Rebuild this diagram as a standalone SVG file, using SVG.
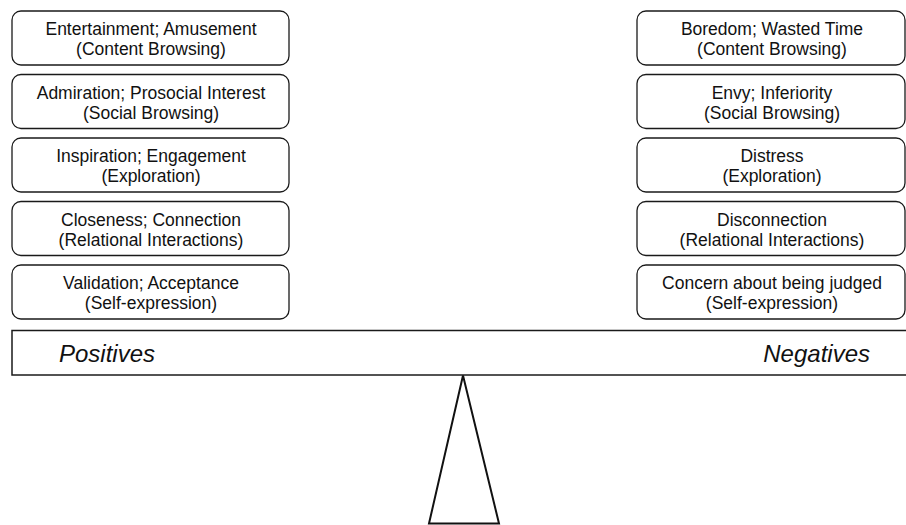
<svg xmlns="http://www.w3.org/2000/svg" width="906" height="525" viewBox="0 0 906 525">
  <style>
    .box { fill: #ffffff; stroke: #1a1a1a; stroke-width: 1.3; }
    .lbl { font-family: "Liberation Sans", Arial, sans-serif; font-size: 17.5px; fill: #111111; text-anchor: middle; }
    .side { font-family: "Liberation Sans", Arial, sans-serif; font-size: 24px; font-style: italic; fill: #111111; }
    .beam { fill: #ffffff; stroke: #1a1a1a; stroke-width: 1.5; }
    .fulcrum { fill: #ffffff; stroke: #111111; stroke-width: 2; stroke-linejoin: miter; }
  </style>
  <rect width="906" height="525" fill="#ffffff"/>

  <!-- positive outcomes (left pan) -->
  <g id="pos-content">
    <rect class="box" x="12" y="11" width="277" height="54" rx="9"/>
    <text class="lbl" x="151" y="35">Entertainment; Amusement</text>
    <text class="lbl" x="151" y="55">(Content Browsing)</text>
  </g>
  <g id="pos-social">
    <rect class="box" x="12" y="74.5" width="277" height="54" rx="9"/>
    <text class="lbl" x="151" y="98.5">Admiration; Prosocial Interest</text>
    <text class="lbl" x="151" y="118.5">(Social Browsing)</text>
  </g>
  <g id="pos-exploration">
    <rect class="box" x="12" y="138" width="277" height="54" rx="9"/>
    <text class="lbl" x="151" y="162">Inspiration; Engagement</text>
    <text class="lbl" x="151" y="182">(Exploration)</text>
  </g>
  <g id="pos-relational">
    <rect class="box" x="12" y="201.5" width="277" height="54" rx="9"/>
    <text class="lbl" x="151" y="225.5">Closeness; Connection</text>
    <text class="lbl" x="151" y="245.5">(Relational Interactions)</text>
  </g>
  <g id="pos-self">
    <rect class="box" x="12" y="265" width="277" height="54" rx="9"/>
    <text class="lbl" x="151" y="289">Validation; Acceptance</text>
    <text class="lbl" x="151" y="309">(Self-expression)</text>
  </g>

  <!-- negative outcomes (right pan) -->
  <g id="neg-content">
    <rect class="box" x="637" y="11" width="268" height="54" rx="9"/>
    <text class="lbl" x="772" y="35">Boredom; Wasted Time</text>
    <text class="lbl" x="772" y="55">(Content Browsing)</text>
  </g>
  <g id="neg-social">
    <rect class="box" x="637" y="74.5" width="268" height="54" rx="9"/>
    <text class="lbl" x="772" y="98.5">Envy; Inferiority</text>
    <text class="lbl" x="772" y="118.5">(Social Browsing)</text>
  </g>
  <g id="neg-exploration">
    <rect class="box" x="637" y="138" width="268" height="54" rx="9"/>
    <text class="lbl" x="772" y="162">Distress</text>
    <text class="lbl" x="772" y="182">(Exploration)</text>
  </g>
  <g id="neg-relational">
    <rect class="box" x="637" y="201.5" width="268" height="54" rx="9"/>
    <text class="lbl" x="772" y="225.5">Disconnection</text>
    <text class="lbl" x="772" y="245.5">(Relational Interactions)</text>
  </g>
  <g id="neg-self">
    <rect class="box" x="637" y="265" width="268" height="54" rx="9"/>
    <text class="lbl" x="772" y="289">Concern about being judged</text>
    <text class="lbl" x="772" y="309">(Self-expression)</text>
  </g>

  <!-- balance beam -->
  <g id="beam">
    <rect class="beam" x="12" y="330.5" width="910" height="44.5"/>
    <text class="side" x="59" y="362">Positives</text>
    <text class="side" x="870" y="362" text-anchor="end">Negatives</text>
  </g>

  <!-- fulcrum -->
  <g id="fulcrum">
    <polygon class="fulcrum" points="463,375.5 499,523.5 429,523.5"/>
  </g>

  <g id="connectors"></g>
</svg>
